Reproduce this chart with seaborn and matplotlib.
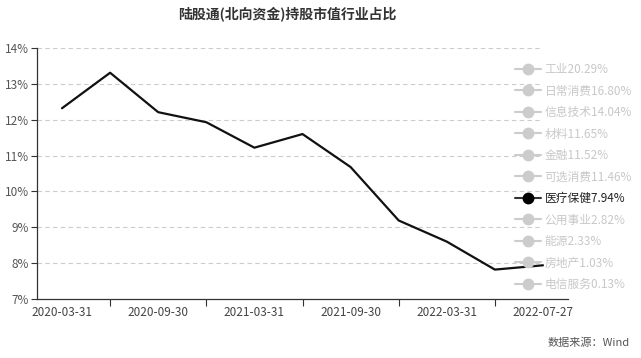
import matplotlib
matplotlib.use("Agg")
import matplotlib.pyplot as plt
from matplotlib.lines import Line2D
from matplotlib.ticker import FuncFormatter, FixedLocator
import seaborn as sns
import pandas as pd

title = "陆股通(北向资金)持股市值行业占比"
dates = ["2020-03-31", "2020-06-30", "2020-09-30", "2020-12-31", "2021-03-31",
         "2021-06-30", "2021-09-30", "2021-12-31", "2022-03-31", "2022-06-30",
         "2022-07-27"]
healthcare = [12.32, 13.31, 12.21, 11.93, 11.22, 11.60, 10.68, 9.19, 8.60, 7.82, 7.94]
legend_labels = ["工业20.29%", "日常消费16.80%", "信息技术14.04%", "材料11.65%",
                 "金融11.52%", "可选消费11.46%", "医疗保健7.94%", "公用事业2.82%",
                 "能源2.33%", "房地产1.03%", "电信服务0.13%"]
active_label = "医疗保健7.94%"
y_ticks = [7, 8, 9, 10, 11, 12, 13, 14]
x_label_dates = ["2020-03-31", "2020-09-30", "2021-03-31", "2021-09-30", "2022-03-31", "2022-07-27"]
source = "数据来源：Wind"

sns.set_theme(style="white")
plt.rcParams["font.family"] = ["Noto Sans CJK SC", "DejaVu Sans"]

df = pd.DataFrame({"idx": range(len(dates)), "date": dates, "value": healthcare})

fig = plt.figure(figsize=(6.41, 3.58), dpi=100)
ax = fig.add_axes([37/641, 1-299/358, (568-37)/641, (299-48)/358])

sns.lineplot(data=df, x="idx", y="value", ax=ax, color="#111111", linewidth=1.6, zorder=3)

ax.set_xlim(-0.52, len(dates) - 1 + 0.52)
ax.set_ylim(7, 14)
ax.yaxis.set_major_locator(FixedLocator(y_ticks))
ax.yaxis.set_major_formatter(FuncFormatter(lambda v, p: f"{v:.0f}%"))
grid_end = (541 - 37) / (568 - 37)
for t in y_ticks[1:]:
    ax.axhline(t, xmax=grid_end, color="#cccccc", linestyle=(0, (4, 3)), linewidth=0.8, zorder=1)

label_pos = [dates.index(d) for d in x_label_dates]
ax.set_xticks(label_pos)
ax.set_xticklabels(x_label_dates)
ax.set_xticks([1, 3, 5, 7, 9], minor=True)
ax.tick_params(axis="x", which="major", length=0, labelsize=8.5, labelcolor="#444444", pad=5)
ax.tick_params(axis="x", which="minor", length=5, width=0.8, color="#333333", direction="out", bottom=True)
ax.tick_params(axis="y", length=4, width=0.8, color="#333333", labelsize=8.5, labelcolor="#555555", pad=2, left=True)
ax.set_xlabel("")
ax.set_ylabel("")

for s in ["top", "right"]:
    ax.spines[s].set_visible(False)
for s in ["left", "bottom"]:
    ax.spines[s].set_color("#333333")
    ax.spines[s].set_linewidth(0.9)

handles = []
colors = []
for lab in legend_labels:
    c = "#000000" if lab == active_label else "#cccccc"
    lc = "#333333" if lab == active_label else "#cccccc"
    handles.append(Line2D([0], [0], color=lc, linewidth=1.5, marker="o",
                          markersize=7.5, markerfacecolor=c, markeredgecolor=c))
    colors.append("#222222" if lab == active_label else "#c8c8c8")
leg = fig.legend(handles, legend_labels, loc="upper left", bbox_to_anchor=(515/641, 1-63/358),
                 frameon=False, fontsize=8.5, labelspacing=0.72, handlelength=2.2,
                 handletextpad=0.3, borderpad=0, borderaxespad=0, labelcolor=colors)

fig.text(287/641, 1-14/358, title, ha="center", va="center", fontsize=10,
         color="#333333", fontweight="bold")
fig.text(630/641, 1-343/358, source, ha="right", va="center", fontsize=8,
         color="#555555")

fig.savefig("out.png", dpi=100)
